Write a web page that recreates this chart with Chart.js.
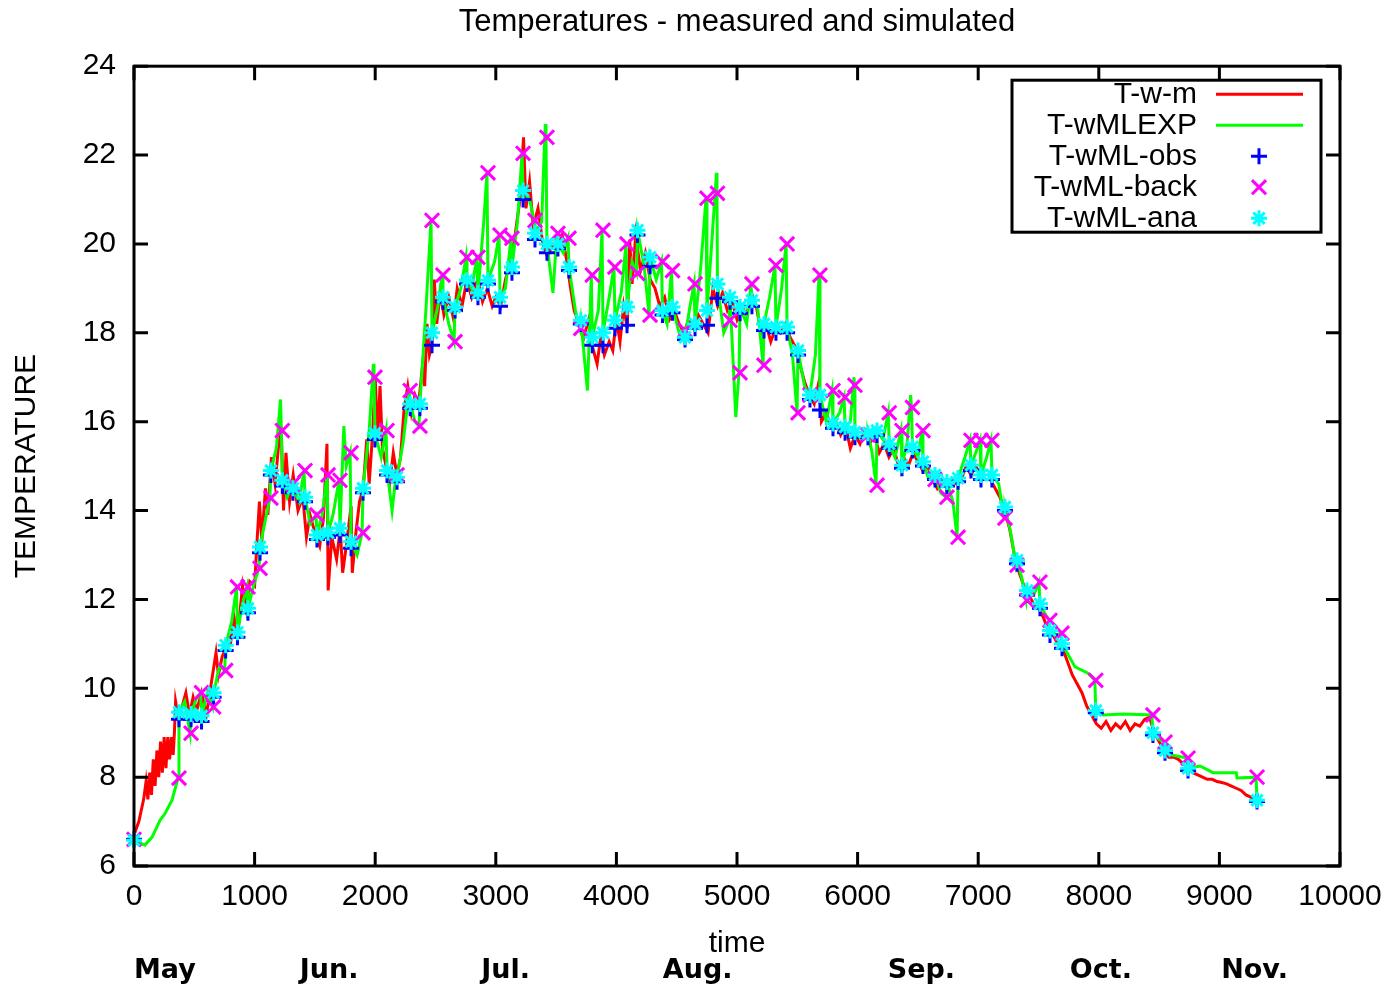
<!DOCTYPE html>
<html>
<head>
<meta charset="utf-8">
<script src="https://cdn.jsdelivr.net/npm/chart.js@4.4.1/dist/chart.umd.min.js"></script>
<style>
  html, body { margin: 0; padding: 0; background: #fff; }
  #wrap { width: 1393px; height: 985px; position: relative; }
</style>
</head>
<body>
<div id="wrap"><canvas id="temp-chart"></canvas></div>
<script>
// measured water temperature (time, temp)
var redPts = [
  [0,6.7],[40,7.0],[80,7.5],[100,7.9],[115,7.5],[130,8.1],[145,7.6],[160,8.4],[175,7.8],[190,8.6],
  [205,8.0],[220,8.8],[235,8.1],[250,8.9],[265,8.2],[280,8.9],[295,8.4],[310,8.9],[325,8.5],[335,9.0],
  [345,9.7],[370,9.3],[400,9.6],[430,9.9],[460,9.4],
  [490,9.8],[520,9.5],[560,9.9],[600,9.4],[640,10.1],[680,10.8],[700,10.3],[730,10.7],[760,10.9],[800,11.0],
  [830,11.6],[860,11.2],[900,12.3],[930,11.8],[960,12.4],[1000,12.3],[1020,13.3],[1040,14.2],[1060,13.3],[1090,14.5],
  [1110,13.9],[1140,15.2],[1170,14.6],[1200,15.5],[1220,15.9],[1240,14.0],[1260,15.3],[1290,14.2],[1320,14.8],[1360,14.0],
  [1400,14.3],[1430,13.4],[1460,13.9],[1500,13.5],[1540,13.2],[1570,13.8],[1600,15.5],[1610,12.2],[1640,13.4],[1680,12.9],
  [1710,13.6],[1730,12.6],[1760,13.2],[1800,14.1],[1810,12.6],[1840,13.5],[1870,14.2],[1900,14.5],[1930,15.6],[1950,14.6],
  [1980,15.8],[2000,17.0],[2020,15.6],[2040,16.8],[2060,15.4],[2090,15.0],[2120,14.6],[2150,15.3],[2180,14.8],[2210,15.2],
  [2240,16.3],[2270,16.8],[2300,16.2],[2330,16.6],[2360,16.4],[2390,17.2],[2410,16.8],[2430,18.2],[2450,17.5],[2470,17.7],
  [2490,19.2],[2510,18.2],[2540,18.9],[2570,18.4],[2610,18.8],[2650,18.3],[2680,19.0],[2720,18.6],[2760,19.2],[2800,18.8],
  [2850,19.2],[2890,18.7],[2930,19.0],[2970,18.6],[3000,18.8],[3040,18.6],[3080,19.2],[3120,19.6],[3160,20.2],[3200,21.0],
  [3230,22.4],[3250,20.8],[3280,21.4],[3310,20.4],[3350,20.8],[3390,20.0],[3430,19.7],[3470,20.0],[3510,19.9],[3550,20.2],
  [3590,19.6],[3620,19.0],[3650,18.5],[3690,18.2],[3730,17.9],[3770,18.3],[3800,17.7],[3840,17.3],[3870,17.9],[3900,17.5],
  [3940,17.8],[3970,17.6],[4000,18.3],[4030,17.8],[4060,18.6],[4090,18.1],[4110,20.1],[4130,19.1],[4160,20.2],[4200,19.4],
  [4240,19.8],[4280,19.2],[4320,19.0],[4360,18.6],[4400,18.8],[4440,18.3],[4480,18.5],[4520,18.2],[4560,18.0],[4600,18.3],
  [4640,18.1],[4680,18.4],[4720,18.2],[4760,18.0],[4800,19.0],[4840,18.6],[4880,18.9],[4920,18.5],[4960,18.7],[5000,18.3],
  [5040,18.6],[5080,18.4],[5120,18.9],[5160,18.6],[5200,18.0],[5240,18.2],[5280,17.8],[5320,18.1],[5360,18.0],[5400,18.2],
  [5440,17.9],[5480,17.7],[5520,17.3],[5560,16.9],[5600,16.6],[5640,16.4],[5680,16.9],[5700,16.0],[5740,16.2],[5780,15.9],
  [5820,16.0],[5860,15.7],[5900,15.9],[5940,15.4],[5980,15.7],[6020,15.5],[6060,15.8],[6100,15.5],[6140,15.7],[6180,15.3],
  [6220,15.5],[6260,15.2],[6300,15.4],[6340,15.0],[6380,15.2],[6420,15.0],[6460,15.3],[6500,15.1],[6540,14.9],[6580,15.0],
  [6620,14.7],[6660,14.5],[6700,14.7],[6740,14.5],[6780,14.7],[6820,14.6],[6860,14.7],[6900,15.0],[6940,14.8],[6980,15.0],
  [7020,14.8],[7060,14.7],[7100,14.7],[7140,14.5],[7180,14.3],[7220,14.0],[7260,13.6],[7300,13.0],[7340,12.6],[7380,12.3],
  [7420,12.1],[7460,11.9],[7500,11.8],[7540,11.6],[7580,11.3],[7620,11.2],[7660,11.0],[7700,10.9],[7740,10.6],[7780,10.3],
  [7820,10.1],[7860,9.9],[7900,9.6],[7940,9.4],[7980,9.2],[8020,9.1],[8060,9.25],[8100,9.05],[8140,9.2],[8180,9.1],
  [8220,9.25],[8260,9.05],[8300,9.2],[8340,9.15],[8380,9.3],[8420,9.35],[8460,9.0],[8500,8.8],[8540,8.6],[8580,8.45],
  [8620,8.45],[8660,8.4],[8700,8.3],[8740,8.2],[8780,8.1],[8820,8.05],[8860,8.0],[8900,7.95],[8940,7.95],[8980,7.9],
  [9020,7.88],[9060,7.85],[9100,7.8],[9140,7.75],[9180,7.7],[9220,7.6],[9260,7.55],[9300,7.45],[9320,7.45]
];

// simulated temperature (time, temp)
var greenPts = [
  [0,6.58],[90,6.47],[150,6.65],[216,7.03],[257,7.18],[315,7.48],[365,7.98],
  [373,9.46],[420,9.7],[465,8.99],[473,9.42],[520,9.8],[552,9.9],[560,9.38],[610,9.9],[652,9.58],
  [660,9.9],[710,10.5],[752,10.4],[760,10.97],[810,11.5],[850,12.28],[858,11.26],[900,11.9],[937,12.28],
  [945,11.8],[1000,12.4],[1037,12.7],[1045,13.18],[1090,13.8],[1127,14.28],[1135,14.9],[1180,15.4],[1215,16.5],[1222,15.8],
  [1230,14.68],[1270,14.3],[1310,14.6],[1318,14.5],[1370,14.2],[1410,14.9],[1418,14.3],[1460,13.7],[1509,13.9],
  [1517,13.45],[1560,13.9],[1601,14.8],[1609,13.5],[1650,13.9],[1700,14.68],[1708,13.6],[1740,15.9],[1760,15.0],[1792,15.3],
  [1800,13.3],[1850,13.0],[1891,13.5],[1899,14.5],[1950,15.8],[1985,17.3],[1990,17.0],[1998,15.74],[2050,15.2],[2090,15.8],
  [2098,14.9],[2140,14.0],[2173,14.8],[2181,14.75],[2230,15.5],[2282,16.7],[2290,16.4],[2330,16.0],[2363,15.9],
  [2371,16.4],[2420,18.5],[2463,20.53],[2471,18.0],[2520,18.6],[2554,19.3],[2562,18.8],[2610,18.2],[2654,17.8],
  [2662,18.58],[2710,19.0],[2753,19.7],[2761,19.18],[2800,19.0],[2844,19.7],[2852,18.9],[2900,20.5],[2927,21.6],
  [2935,19.18],[2990,19.6],[3027,20.2],[3035,18.8],[3080,19.0],[3126,20.13],[3134,19.48],[3180,20.5],[3218,22.04],
  [3226,21.2],[3280,21.0],[3317,20.53],[3325,20.24],[3380,20.5],[3410,22.7],[3416,22.4],[3424,20.0],[3474,18.9],[3507,20.24],
  [3515,20.0],[3560,19.8],[3599,20.13],[3607,19.48],[3660,18.5],[3697,18.1],[3705,18.28],[3760,16.7],[3792,19.3],
  [3800,17.9],[3850,18.5],[3881,20.31],[3889,18.0],[3940,18.8],[3980,19.48],[3988,18.28],[4040,18.9],[4080,20.0],
  [4088,18.58],[4130,19.6],[4167,19.34],[4175,20.31],[4230,19.5],[4271,18.4],[4279,19.7],[4330,19.2],[4374,19.6],
  [4382,18.5],[4420,18.2],[4457,19.4],[4465,18.58],[4520,18.0],[4561,18.06],[4569,17.9],[4610,18.6],[4644,19.1],
  [4652,18.2],[4700,19.5],[4743,21.03],[4751,18.5],[4790,20.0],[4830,21.6],[4834,21.14],[4838,19.1],[4890,18.0],[4934,18.28],
  [4942,18.8],[4990,16.1],[5017,17.1],[5025,18.58],[5080,18.2],[5116,19.1],[5124,18.73],[5170,18.6],[5216,17.27],
  [5224,18.2],[5270,18.8],[5315,19.52],[5323,18.13],[5370,19.0],[5407,20.0],[5415,18.13],[5460,17.5],[5498,16.2],
  [5506,17.6],[5560,16.8],[5597,16.6],[5605,16.6],[5650,17.5],[5680,19.3],[5688,16.6],[5740,16.0],[5788,16.7],
  [5796,15.96],[5850,16.2],[5888,16.55],[5896,15.88],[5940,16.0],[5970,17.0],[5974,16.82],[5978,15.76],[6030,15.6],[6078,15.7],
  [6086,15.74],[6120,15.3],[6153,14.57],[6161,15.8],[6210,15.6],[6254,16.2],[6262,15.5],[6310,15.2],[6360,15.8],
  [6368,15.02],[6410,15.5],[6440,16.6],[6447,16.32],[6455,15.43],[6500,15.2],[6534,15.8],[6542,15.1],[6590,14.7],[6634,14.7],
  [6642,14.8],[6690,14.4],[6733,14.3],[6741,14.64],[6790,14.2],[6825,13.4],[6833,14.73],[6890,15.2],[6932,15.58],
  [6940,15.02],[6980,15.3],[7015,15.58],[7023,14.8],[7070,15.2],[7106,15.58],[7114,14.8],[7170,14.6],[7214,13.83],
  [7222,14.08],[7270,13.5],[7314,12.77],[7322,12.88],[7360,12.5],[7397,11.98],[7405,12.2],[7460,12.1],[7504,12.39],
  [7512,11.9],[7550,11.7],[7587,11.53],[7595,11.3],[7650,11.2],[7687,11.24],[7695,11.0],[7803,10.48],[7910,10.34],[7967,10.18],
  [7975,9.5],[8035,9.4],[8200,9.42],[8440,9.4],[8449,9.0],[8500,8.85],[8541,8.79],[8549,8.6],[8600,8.5],[8732,8.43],
  [8740,8.2],[8840,8.25],[8947,8.1],[9140,8.1],[9146,7.98],[9304,8.0],[9312,7.48]
];

// assimilation times with observation, background and analysis values
var assimTime = [
  0, 373, 473, 560, 660, 760, 858, 945, 1045, 1135,
  1230, 1318, 1418, 1517, 1609, 1708, 1800, 1899, 1998, 2098,
  2181, 2290, 2371, 2471, 2562, 2662, 2761, 2852, 2935, 3035,
  3134, 3226, 3325, 3424, 3515, 3607, 3705, 3800, 3889, 3988,
  4088, 4175, 4279, 4382, 4465, 4569, 4652, 4751, 4838, 4942,
  5025, 5124, 5224, 5323, 5415, 5506, 5605, 5688, 5796, 5896,
  5978, 6086, 6161, 6262, 6368, 6455, 6542, 6642, 6741, 6833,
  6940, 7023, 7114, 7222, 7322, 7405, 7512, 7595, 7695, 7975,
  8449, 8549, 8740, 9312
];
var obsTemp = [
  6.6, 9.3, 9.3, 9.25, 9.8, 10.85, 11.15, 11.7, 13.05, 14.8,
  14.55, 14.4, 14.2, 13.35, 13.4, 13.45, 13.15, 14.4, 15.6, 14.8,
  14.65, 16.3, 16.3, 17.72, 18.7, 18.5, 19.1, 18.8, 19.1, 18.6,
  19.35, 21.0, 20.1, 19.8, 19.9, 19.4, 18.2, 17.72, 17.72, 18.1,
  18.17, 20.2, 19.5, 18.4, 18.45, 17.85, 18.1, 18.17, 18.78, 18.7,
  18.44, 18.6, 18.05, 18.0, 18.0, 17.5, 16.5, 16.26, 15.85, 15.75,
  15.65, 15.65, 15.7, 15.4, 14.95, 15.35, 15.0, 14.7, 14.55, 14.65,
  14.9, 14.7, 14.7, 14.0, 12.8, 12.1, 11.8, 11.2, 10.9, 9.45,
  8.95, 8.55, 8.15, 7.45
];
var backTemp = [
  6.6, 7.98, 8.99, 9.9, 9.58, 10.4, 12.28, 12.28, 12.7, 14.28,
  15.8, 14.6, 14.9, 13.9, 14.8, 14.68, 15.3, 13.5, 17.0, 15.8,
  14.8, 16.7, 15.9, 20.53, 19.3, 17.8, 19.7, 19.7, 21.6, 20.2,
  20.13, 22.04, 20.53, 22.4, 20.24, 20.13, 18.1, 19.3, 20.31, 19.48,
  20.0, 19.34, 18.4, 19.6, 19.4, 18.06, 19.1, 21.03, 21.14, 18.28,
  17.1, 19.1, 17.27, 19.52, 20.0, 16.2, 16.6, 19.3, 16.7, 16.55,
  16.82, 15.7, 14.57, 16.2, 15.8, 16.32, 15.8, 14.7, 14.3, 13.4,
  15.58, 15.58, 15.58, 13.83, 12.77, 11.98, 12.39, 11.53, 11.24, 10.18,
  9.4, 8.79, 8.43, 8.0
];
var anaTemp = [
  6.58, 9.46, 9.42, 9.38, 9.9, 10.97, 11.26, 11.8, 13.18, 14.9,
  14.68, 14.5, 14.3, 13.45, 13.5, 13.6, 13.3, 14.5, 15.74, 14.9,
  14.75, 16.4, 16.4, 18.0, 18.8, 18.58, 19.18, 18.9, 19.18, 18.8,
  19.48, 21.2, 20.24, 20.0, 20.0, 19.48, 18.28, 17.9, 18.0, 18.28,
  18.58, 20.31, 19.7, 18.5, 18.58, 17.9, 18.2, 18.5, 19.1, 18.8,
  18.58, 18.73, 18.2, 18.13, 18.13, 17.6, 16.6, 16.6, 15.96, 15.88,
  15.76, 15.74, 15.8, 15.5, 15.02, 15.43, 15.1, 14.8, 14.64, 14.73,
  15.02, 14.8, 14.8, 14.08, 12.88, 12.2, 11.9, 11.3, 11.0, 9.5,
  9.0, 8.6, 8.2, 7.48
];

// month labels under the time axis (left edge in time units)
var monthLabels = ['May', 'Jun.', 'Jul.', 'Aug.', 'Sep.', 'Oct.', 'Nov.'];
var monthTime = [0, 1375, 2880, 4385, 6250, 7760, 9015];

var FONT = 'Liberation Sans';
Chart.defaults.font.family = FONT;
Chart.defaults.color = '#000';

function toXY(pts) { return pts.map(function (p) { return {x: p[0], y: p[1]}; }); }
function pair(ts, vs) { return ts.map(function (t, i) { return {x: t, y: vs[i]}; }); }

function drawMarker(ctx, style, x, y, r) {
    var d = r * Math.SQRT1_2;
    ctx.beginPath();
    if (style === 'cross' || style === 'star') {
        ctx.moveTo(x - r, y); ctx.lineTo(x + r, y);
        ctx.moveTo(x, y - r); ctx.lineTo(x, y + r);
    }
    if (style === 'crossRot' || style === 'star') {
        ctx.moveTo(x - d, y - d); ctx.lineTo(x + d, y + d);
        ctx.moveTo(x - d, y + d); ctx.lineTo(x + d, y - d);
    }
    ctx.stroke();
}

// gnuplot like frame, mirrored inward ticks, key box and month labels
var gnuFrame = {
    id: 'gnuFrame',
    afterDraw: function (chart) {
        var ctx = chart.ctx, a = chart.chartArea;
        var xs = chart.scales.x, ys = chart.scales.y;
        var tl = 14;
        ctx.save();
        ctx.strokeStyle = '#000';
        ctx.lineWidth = 3;
        ctx.strokeRect(a.left, a.top, a.right - a.left, a.bottom - a.top);
        ctx.beginPath();
        xs.ticks.forEach(function (t) {
            var px = xs.getPixelForValue(t.value);
            ctx.moveTo(px, a.bottom); ctx.lineTo(px, a.bottom - tl);
            ctx.moveTo(px, a.top); ctx.lineTo(px, a.top + tl);
        });
        ys.ticks.forEach(function (t) {
            var py = ys.getPixelForValue(t.value);
            ctx.moveTo(a.left, py); ctx.lineTo(a.left + tl, py);
            ctx.moveTo(a.right, py); ctx.lineTo(a.right - tl, py);
        });
        ctx.stroke();

        // key
        var bx = a.right - 328, by = a.top + 14, bw = 309, bh = 152;
        ctx.fillStyle = '#fff';
        ctx.fillRect(bx, by, bw, bh);
        ctx.strokeRect(bx, by, bw, bh);
        ctx.font = '30px "' + FONT + '"';
        ctx.textAlign = 'right';
        ctx.textBaseline = 'middle';
        chart.data.datasets.forEach(function (ds, i) {
            var ry = by + 14 + i * 31;
            ctx.fillStyle = '#000';
            ctx.fillText(ds.label, bx + 185, ry + 1);
            ctx.strokeStyle = ds.borderColor;
            ctx.lineWidth = 3;
            if (ds.showLine) {
                ctx.beginPath();
                ctx.moveTo(bx + 204, ry); ctx.lineTo(bx + 291, ry);
                ctx.stroke();
            } else {
                drawMarker(ctx, ds.pointStyle, bx + 247, ry, ds.pointRadius);
            }
        });

        // months
        ctx.fillStyle = '#000';
        ctx.font = 'bold 27px "DejaVu Sans"';
        ctx.textAlign = 'left';
        ctx.textBaseline = 'alphabetic';
        monthLabels.forEach(function (m, i) {
            ctx.fillText(m, xs.getPixelForValue(monthTime[i]), 978);
        });
        ctx.restore();
    }
};

var data = {
    datasets: [{
        label: 'T-w-m',
        data: toXY(redPts),
        showLine: true,
        borderColor: '#ff0000',
        backgroundColor: '#ff0000',
        borderWidth: 3,
        pointRadius: 0,
        order: 5
    }, {
        label: 'T-wMLEXP',
        data: toXY(greenPts),
        showLine: true,
        borderColor: '#00ff00',
        backgroundColor: '#00ff00',
        borderWidth: 3,
        pointRadius: 0,
        order: 4
    }, {
        label: 'T-wML-obs',
        data: pair(assimTime, obsTemp),
        showLine: false,
        pointStyle: 'cross',
        pointRadius: 8,
        pointBorderWidth: 3,
        borderColor: '#0000ff',
        backgroundColor: '#0000ff',
        clip: false,
        order: 3
    }, {
        label: 'T-wML-back',
        data: pair(assimTime, backTemp),
        showLine: false,
        pointStyle: 'crossRot',
        pointRadius: 10,
        pointBorderWidth: 3,
        borderColor: '#ff00ff',
        backgroundColor: '#ff00ff',
        clip: false,
        order: 2
    }, {
        label: 'T-wML-ana',
        data: pair(assimTime, anaTemp),
        showLine: false,
        pointStyle: 'star',
        pointRadius: 8,
        pointBorderWidth: 3,
        borderColor: '#00ffff',
        backgroundColor: '#00ffff',
        clip: false,
        order: 1
    }]
};

var layout = {
    type: 'scatter',
    data: data,
    options: {
        responsive: true,
        maintainAspectRatio: false,
        animation: false,
        devicePixelRatio: 1,
        layout: { padding: { left: 0, right: 53, top: 0, bottom: 0 } },
        elements: { line: { tension: 0 } },
        plugins: {
            legend: { display: false },
            tooltip: { enabled: false },
            title: {
                display: true,
                fullSize: false,
                text: 'Temperatures - measured and simulated',
                color: '#000',
                font: { size: 31, weight: 'normal' },
                padding: { top: 4, bottom: 25 }
            }
        },
        scales: {
            x: {
                type: 'linear',
                min: 0,
                max: 10000,
                grid: { display: false, drawTicks: false },
                border: { display: false },
                ticks: {
                    stepSize: 1000,
                    autoSkip: false,
                    maxRotation: 0,
                    padding: 10,
                    font: { size: 30, lineHeight: 1.4 },
                    callback: function (v) { return String(v); }
                },
                title: {
                    display: true,
                    text: 'time',
                    font: { size: 30 },
                    padding: { top: 0, bottom: 23 }
                },
                afterFit: function (s) { s.height = 119; }
            },
            y: {
                min: 6,
                max: 24,
                grid: { display: false, drawTicks: false },
                border: { display: false },
                ticks: {
                    stepSize: 2,
                    padding: 18,
                    font: { size: 30 },
                    callback: function (v) { return String(v); }
                },
                title: {
                    display: true,
                    text: 'TEMPERATURE',
                    font: { size: 30 },
                    padding: { top: 9, bottom: 0 }
                },
                afterFit: function (s) { s.width = 134; }
            }
        }
    },
    plugins: [gnuFrame]
};

var tempChart = document.getElementById('temp-chart');
new Chart(tempChart, layout);
</script>
</body>
</html>
